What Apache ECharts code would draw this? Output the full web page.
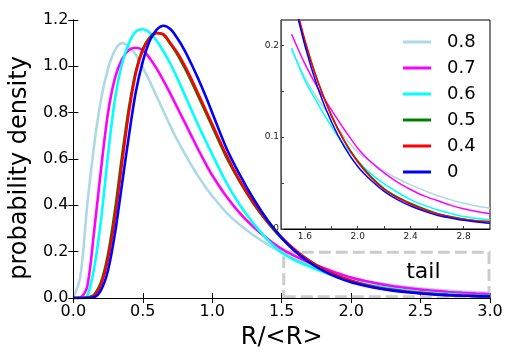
<!DOCTYPE html>
<html>
<head>
<meta charset="utf-8">
<script src="https://cdn.jsdelivr.net/npm/echarts@6/dist/echarts.min.js"></script>
<style>
html,body{margin:0;padding:0;background:#fff;}
#chart{width:514px;height:361px;}
</style>
</head>
<body>
<div id="chart"></div>
<script>
// R/<R> sample points
var xs = [0,0.05,0.1,0.15,0.2,0.25,0.3,0.35,0.4,0.45,0.5,
          0.55,0.6,0.65,0.7,0.75,0.8,0.85,0.9,0.95,1.0,
          1.1,1.2,1.3,1.4,1.5,1.6,1.7,1.8,1.9,2.0,
          2.1,2.2,2.3,2.4,2.5,2.6,2.7,2.8,2.9,3.0];

// probability density, one array per curve
var y08 = [0,0.09,0.40,0.66,0.86,0.99,1.07,1.10,1.085,1.05,0.995,
           0.935,0.87,0.805,0.74,0.68,0.625,0.573,0.525,0.48,0.44,
           0.37,0.315,0.27,0.23,0.195,0.165,0.141,0.121,0.10,0.084,
           0.073,0.063,0.055,0.048,0.042,0.0365,0.032,0.028,0.025,0.0225];
var y07 = [0,0.002,0.05,0.29,0.56,0.80,0.95,1.03,1.07,1.08,1.07,
           1.035,0.99,0.937,0.88,0.82,0.76,0.70,0.64,0.583,0.53,
           0.44,0.365,0.305,0.255,0.212,0.18,0.153,0.13,0.108,0.088,
           0.073,0.061,0.051,0.043,0.036,0.031,0.026,0.022,0.019,0.0165];
var y06 = [0,0,0.01,0.13,0.34,0.62,0.86,1.01,1.10,1.15,1.16,
           1.145,1.11,1.063,1.01,0.947,0.88,0.812,0.745,0.682,0.62,
           0.50,0.40,0.32,0.25,0.197,0.162,0.136,0.112,0.091,0.074,
           0.060,0.049,0.040,0.032,0.026,0.021,0.017,0.0135,0.0115,0.010];
var y05 = [0,0,0.002,0.015,0.07,0.19,0.38,0.61,0.82,0.98,1.075,
           1.125,1.145,1.135,1.095,1.05,0.995,0.935,0.87,0.805,0.74,
           0.61,0.50,0.405,0.325,0.258,0.204,0.16,0.124,0.096,0.074,
           0.057,0.044,0.035,0.028,0.022,0.017,0.0135,0.011,0.009,0.0082];
var y04 = [0,0,0.001,0.01,0.06,0.17,0.35,0.58,0.80,0.97,1.07,
           1.12,1.143,1.138,1.10,1.058,1.005,0.945,0.88,0.815,0.75,
           0.62,0.505,0.41,0.33,0.262,0.206,0.16,0.124,0.095,0.073,
           0.056,0.043,0.034,0.027,0.021,0.0165,0.013,0.0105,0.0088,0.0078];
var y0 = [0,0,0,0.003,0.035,0.12,0.28,0.49,0.70,0.89,1.02,
          1.11,1.158,1.175,1.16,1.12,1.07,1.01,0.945,0.875,0.80,
          0.65,0.53,0.425,0.335,0.26,0.20,0.153,0.117,0.089,0.068,
          0.053,0.041,0.032,0.025,0.0195,0.015,0.012,0.0094,0.0076,0.0062];

var names = ['0.8','0.7','0.6','0.5','0.4','0'];
var curves = [y08,y07,y06,y05,y04,y0];
var colors = ['#add8e6','#ff00ff','#00ffff','#008000','#ff0000','#0000ff'];

var insetXTicks = [1.6,1.8,2.0,2.2,2.4,2.6,2.8];
var insetXLabels = [1.6,2.0,2.4,2.8];
var insetYTicks = [0,0.05,0.1,0.15,0.2];
var insetYLabels = [0,0.1,0.2];
var tailBox = [[1.515,0.005],[2.993,0.197]];
var tailText = [2.52,0.112];

var FONT = 'DejaVu Sans';

function pairs(ys, from){
	var out = [];
	for(var i=0;i<xs.length;i++){
		if(xs[i] >= from) out.push([xs[i], ys[i]]);
	}
	return out;
}

var series = [];
for(var i=0;i<curves.length;i++){
	var s = {
		name: names[i],
		type: 'line',
		xAxisIndex: 0,
		yAxisIndex: 0,
		showSymbol: false,
		smooth: 0.3,
		lineStyle: {color: colors[i], width: 2.6},
		itemStyle: {color: colors[i]},
		data: pairs(curves[i], 0)
	};
	if(i == 0){
		s.markArea = {
			silent: true,
			itemStyle: {color: 'rgba(0,0,0,0)', borderColor: '#cccccc', borderWidth: 3, borderType: [12,5]},
			data: [[{coord: tailBox[0]}, {coord: tailBox[1]}]]
		};
		s.markPoint = {
			silent: true,
			symbol: 'circle',
			symbolSize: 0,
			label: {show: true, position: 'inside', formatter: 'tail', color: '#000', fontSize: 22, fontFamily: FONT},
			data: [{coord: tailText}]
		};
	}
	series.push(s);
}
// inset copies
for(var i=0;i<curves.length;i++){
	series.push({
		name: names[i],
		type: 'line',
		xAxisIndex: 2,
		yAxisIndex: 2,
		zlevel: 1,
		z: 5,
		showSymbol: false,
		smooth: 0.3,
		lineStyle: {color: colors[i], width: 1.5},
		itemStyle: {color: colors[i]},
		data: pairs(curves[i], 1.5)
	});
}

var tickInside = {show: true, inside: true, length: 5, lineStyle: {color: '#000'}};
var axisLineBlack = {show: true, lineStyle: {color: '#000', width: 1}};

var myChart = echarts.init(document.getElementById('chart'));
var option = {
	animation: false,
	backgroundColor: '#fff',
	textStyle: {fontFamily: FONT},
	grid: [
		{left: 71, right: 24, top: 20, bottom: 63, show: false},
		{left: 281, right: 24, top: 20, height: 209, show: true, backgroundColor: '#fff',
		 borderColor: '#000', borderWidth: 1, zlevel: 1, z: 0}
	],
	legend: {
		orient: 'vertical',
		left: 403,
		top: 33,
		padding: 0,
		itemGap: 8,
		icon: 'rect',
		itemWidth: 28,
		itemHeight: 3,
		zlevel: 1,
		z: 30,
		textStyle: {fontSize: 18, color: '#000', fontFamily: FONT, padding: [0,0,0,11]},
		data: names
	},
	xAxis: [
		{
			gridIndex: 0, type: 'value', min: 0, max: 3, interval: 0.5, position: 'bottom',
			axisLine: axisLineBlack, axisTick: tickInside, splitLine: {show: false},
			axisLabel: {fontSize: 16, color: '#000', margin: 6, fontFamily: FONT,
				formatter: function(v){ return v.toFixed(1); }},
			name: 'R/<R>', nameLocation: 'middle', nameGap: 28,
			nameTextStyle: {fontSize: 24, color: '#000', fontFamily: FONT}
		},
		{
			gridIndex: 0, type: 'value', min: 0, max: 3, interval: 0.5, position: 'top',
			axisLine: axisLineBlack, axisTick: tickInside, splitLine: {show: false},
			axisLabel: {show: false}, zlevel: 1, z: 20
		},
		{
			gridIndex: 1, type: 'value', min: 1.42, max: 3, position: 'bottom',
			axisLine: {show: true, lineStyle: {color: '#000', width: 1}},
			axisTick: {show: true, inside: true, length: 3, lineStyle: {color: '#444'}, customValues: insetXTicks},
			splitLine: {show: false},
			axisLabel: {fontSize: 9, color: '#222', margin: 3, fontFamily: FONT, customValues: insetXLabels,
				formatter: function(v){ return v.toFixed(1); }},
			zlevel: 1, z: 10
		}
	],
	yAxis: [
		{
			gridIndex: 0, type: 'value', min: 0, max: 1.2, interval: 0.2, position: 'left',
			axisLine: axisLineBlack, axisTick: tickInside, splitLine: {show: false},
			axisLabel: {fontSize: 16, color: '#000', margin: 5, fontFamily: FONT,
				formatter: function(v){ return v.toFixed(1); }},
			name: 'probability density', nameLocation: 'middle', nameGap: 38,
			nameTextStyle: {fontSize: 24, color: '#000', fontFamily: FONT, padding: [0,18,0,0]}
		},
		{
			gridIndex: 0, type: 'value', min: 0, max: 1.2, interval: 0.2, position: 'right',
			axisLine: axisLineBlack, axisTick: tickInside, splitLine: {show: false},
			axisLabel: {show: false}, zlevel: 1, z: 20
		},
		{
			gridIndex: 1, type: 'value', min: 0, max: 0.2275, position: 'left',
			axisLine: {show: true, lineStyle: {color: '#555', width: 1}},
			axisTick: {show: true, inside: true, length: 3, lineStyle: {color: '#444'}, customValues: insetYTicks},
			splitLine: {show: false},
			axisLabel: {fontSize: 9, color: '#222', margin: 2, fontFamily: FONT, customValues: insetYLabels,
				formatter: function(v){ return v === 0 ? '0' : String(v); }},
			zlevel: 1, z: 10
		}
	],
	series: series
};
myChart.setOption(option);
</script>
</body>
</html>
